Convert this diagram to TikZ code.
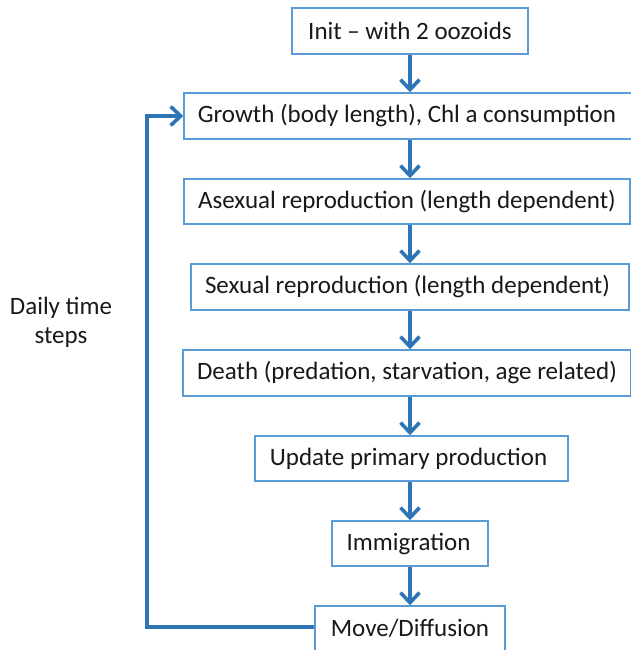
\documentclass[tikz,border=0pt]{standalone}
\usepackage{fontspec}
\setmainfont{Carlito}
\usetikzlibrary{arrows.meta}
\definecolor{boxblue}{HTML}{5B9BD5}
\definecolor{arrblue}{HTML}{2E75B6}
\tikzset{
  txt/.style={font=\fontsize{25}{29}\selectfont, text=black!90},
  stepbox/.style={txt, draw=boxblue, line width=1.5pt, fill=white, inner sep=0pt},
  arr/.style={draw=arrblue, line width=3.6pt,
    -{Straight Barb[length=10pt,width=19pt,line width=3.6pt]}},
}
\begin{document}
\begin{tikzpicture}[x=1pt,y=-1pt]
\useasboundingbox (0,0) rectangle (631,650);
\clip (0,0) rectangle (631,650);
\coordinate (axis) at (410,0);
\node[stepbox, minimum width=236pt, minimum height=46pt] (init) at (410,31) {Init -- with 2 oozoids};
\node[stepbox, minimum width=450pt, minimum height=46pt] (growth) at (409,116) {\hspace*{-4pt}Growth (body length), Chl a consumption};
\node[stepbox, minimum width=446pt, minimum height=45pt] (asex) at (407,201.5) {Asexual reproduction (length dependent)};
\node[stepbox, minimum width=438pt, minimum height=46pt] (sex) at (410,287) {\hspace*{-5pt}Sexual reproduction (length dependent)};
\node[stepbox, minimum width=448pt, minimum height=46pt] (death) at (407,373) {Death (predation, starvation, age related)};
\node[stepbox, minimum width=313pt, minimum height=45pt] (update) at (411.5,458.5) {\hspace*{-6pt}Update primary production};
\node[stepbox, minimum width=156pt, minimum height=45pt] (immig) at (410,543.5) {\hspace*{-3pt}Immigration};
\node[stepbox, minimum width=190pt, minimum height=47pt] (move) at (410,629.5) {};
\node[txt] (movetext) at (410,628) {Move/Diffusion};
\node[txt, align=center] (daily) at (61,322) {Daily time\\steps};
\draw[arr] (init.south -| axis) -- (growth.north -| axis);
\draw[arr] (growth.south -| axis) -- (asex.north -| axis);
\draw[arr] (asex.south -| axis) -- (sex.north -| axis);
\draw[arr] (sex.south -| axis) -- (death.north -| axis);
\draw[arr] (death.south -| axis) -- (update.north -| axis);
\draw[arr] (update.south -| axis) -- (immig.north -| axis);
\draw[arr] (immig.south -| axis) -- (move.north -| axis);
\coordinate (loopx) at (147,0);
\coordinate (loopb) at (147,627);
\draw[arr, line join=miter] (move.west |- loopb) -- (loopb) -- (loopx |- growth.west) -- (growth.west);
\end{tikzpicture}
\end{document}
